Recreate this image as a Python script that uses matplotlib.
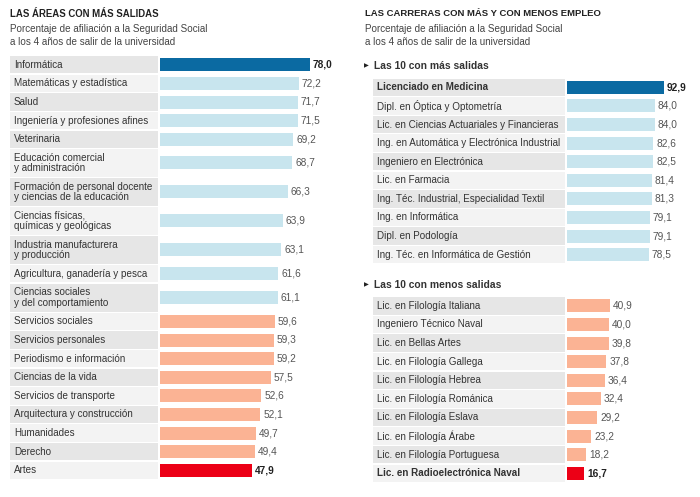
import matplotlib.pyplot as plt

plt.rcParams['font.family'] = ['Liberation Sans', 'DejaVu Sans']

# datos (porcentaje de afiliacion a la Seguridad Social)
areas = ["Informática", "Matemáticas y estadística", "Salud",
         "Ingeniería y profesiones afines", "Veterinaria",
         "Educación comercial\ny administración",
         "Formación de personal docente\ny ciencias de la educación",
         "Ciencias físicas,\nquímicas y geológicas",
         "Industria manufacturera\ny producción",
         "Agricultura, ganadería y pesca",
         "Ciencias sociales\ny del comportamiento",
         "Servicios sociales", "Servicios personales",
         "Periodismo e información", "Ciencias de la vida",
         "Servicios de transporte", "Arquitectura y construcción",
         "Humanidades", "Derecho", "Artes"]
areas_val = [78.0, 72.2, 71.7, 71.5, 69.2, 68.7, 66.3, 63.9, 63.1, 61.6,
             61.1, 59.6, 59.3, 59.2, 57.5, 52.6, 52.1, 49.7, 49.4, 47.9]
areas_grp = ["max"] + ["alto"] * 10 + ["bajo"] * 8 + ["min"]

mas = ["Licenciado en Medicina", "Dipl. en Óptica y Optometría",
       "Lic. en Ciencias Actuariales y Financieras",
       "Ing. en Automática y Electrónica Industrial",
       "Ingeniero en Electrónica", "Lic. en Farmacia",
       "Ing. Téc. Industrial, Especialidad Textil", "Ing. en Informática",
       "Dipl. en Podología", "Ing. Téc. en Informática de Gestión"]
mas_val = [92.9, 84.0, 84.0, 82.6, 82.5, 81.4, 81.3, 79.1, 79.1, 78.5]
mas_grp = ["max"] + ["alto"] * 9

menos = ["Lic. en Filología Italiana", "Ingeniero Técnico Naval",
         "Lic. en Bellas Artes", "Lic. en Filología Gallega",
         "Lic. en Filología Hebrea", "Lic. en Filología Románica",
         "Lic. en Filología Eslava", "Lic. en Filología Árabe",
         "Lic. en Filología Portuguesa", "Lic. en Radioelectrónica Naval"]
menos_val = [40.9, 40.0, 39.8, 37.8, 36.4, 32.4, 29.2, 23.2, 18.2, 16.7]
menos_grp = ["bajo"] * 9 + ["min"]

colores = {"max": "#0b6aa2", "alto": "#c8e5ee", "bajo": "#fbb394", "min": "#ec0016"}
fondo = ["#e6e6e6", "#f3f3f3"]
SUBT = "Porcentaje de afiliación a la Seguridad Social\na los 4 años de salir de la universidad"

W, H = 700, 497
fig = plt.figure(figsize=(W / 100, H / 100), dpi=100)


def px_axes(x0, y0, x1, y1):
    return fig.add_axes([x0 / W, 1 - y1 / H, (x1 - x0) / W, (y1 - y0) / H])


def fig_text(x, y, s, **kw):
    fig.text(x / W, 1 - y / H, s, **kw)


def filas(ax, labels, vals, grps, top, x_lab, x_bar, scale, bold_lab=True,
          pitch=18.6, pitch2=29.0):
    # y en pixeles, x en unidades de dato
    y = top
    for i, (lab, v, g) in enumerate(zip(labels, vals, grps)):
        h = pitch2 if "\n" in lab else pitch
        yc = y + h / 2
        ax.barh(yc, (x_bar - 2 - x_lab) / scale, left=-(x_bar - x_lab) / scale,
                height=h - 1.2, color=fondo[i % 2], lw=0)
        ax.barh(yc, v, height=13, color=colores[g], lw=0)
        fuerte = g in ("max", "min")
        ax.text(-(x_bar - x_lab - 4) / scale, yc, lab, va='center', ha='left',
                fontsize=7.1, color='#333333', linespacing=1.1,
                fontweight='bold' if fuerte and bold_lab else 'normal')
        ax.text(v + 3 / scale, yc, f"{v:.1f}".replace('.', ','), va='center',
                ha='left', fontsize=7.3, color='#222222' if fuerte else '#555555',
                fontweight='bold' if fuerte else 'normal')
        y += h


# panel izquierdo
sL = 150 / 78.0
axL = px_axes(10, 55, 350, 480)
axL.set_xlim(-150 / sL, 190 / sL)
axL.set_ylim(480, 55)
axL.axis('off')
filas(axL, areas, areas_val, areas_grp, 55.5, 10, 160, sL, bold_lab=False)

fig_text(10, 14, "LAS ÁREAS CON MÁS SALIDAS", fontsize=6.9, fontweight='bold',
         color='#222222', va='center')
fig_text(10, 35.5, SUBT, fontsize=7.1, color='#444444', va='center', linespacing=1.3)

# panel derecho
sR = 97 / 92.9
axR = px_axes(366, 75, 695, 485)
axR.set_xlim(-(567 - 366) / sR, (695 - 567) / sR)
axR.set_ylim(485, 75)
axR.axis('off')
filas(axR, mas, mas_val, mas_grp, 78.0, 373, 567, sR)
filas(axR, menos, menos_val, menos_grp, 296.5, 373, 567, sR)

fig_text(365, 14, "LAS CARRERAS CON MÁS Y CON MENOS EMPLEO", fontsize=6.8,
         fontweight='bold', color='#222222', va='center')
fig_text(365, 35.5, SUBT, fontsize=7.1, color='#444444', va='center', linespacing=1.3)
for yy, s in [(66, "Las 10 con más salidas"), (285, "Las 10 con menos salidas")]:
    fig_text(364, yy, "▶", fontsize=4.5, color='#222222', va='center',
             family='DejaVu Sans')
    fig_text(374, yy, s, fontsize=7.4, fontweight='bold', color='#333333', va='center')

fig.savefig("out.png", dpi=100, facecolor='white')
